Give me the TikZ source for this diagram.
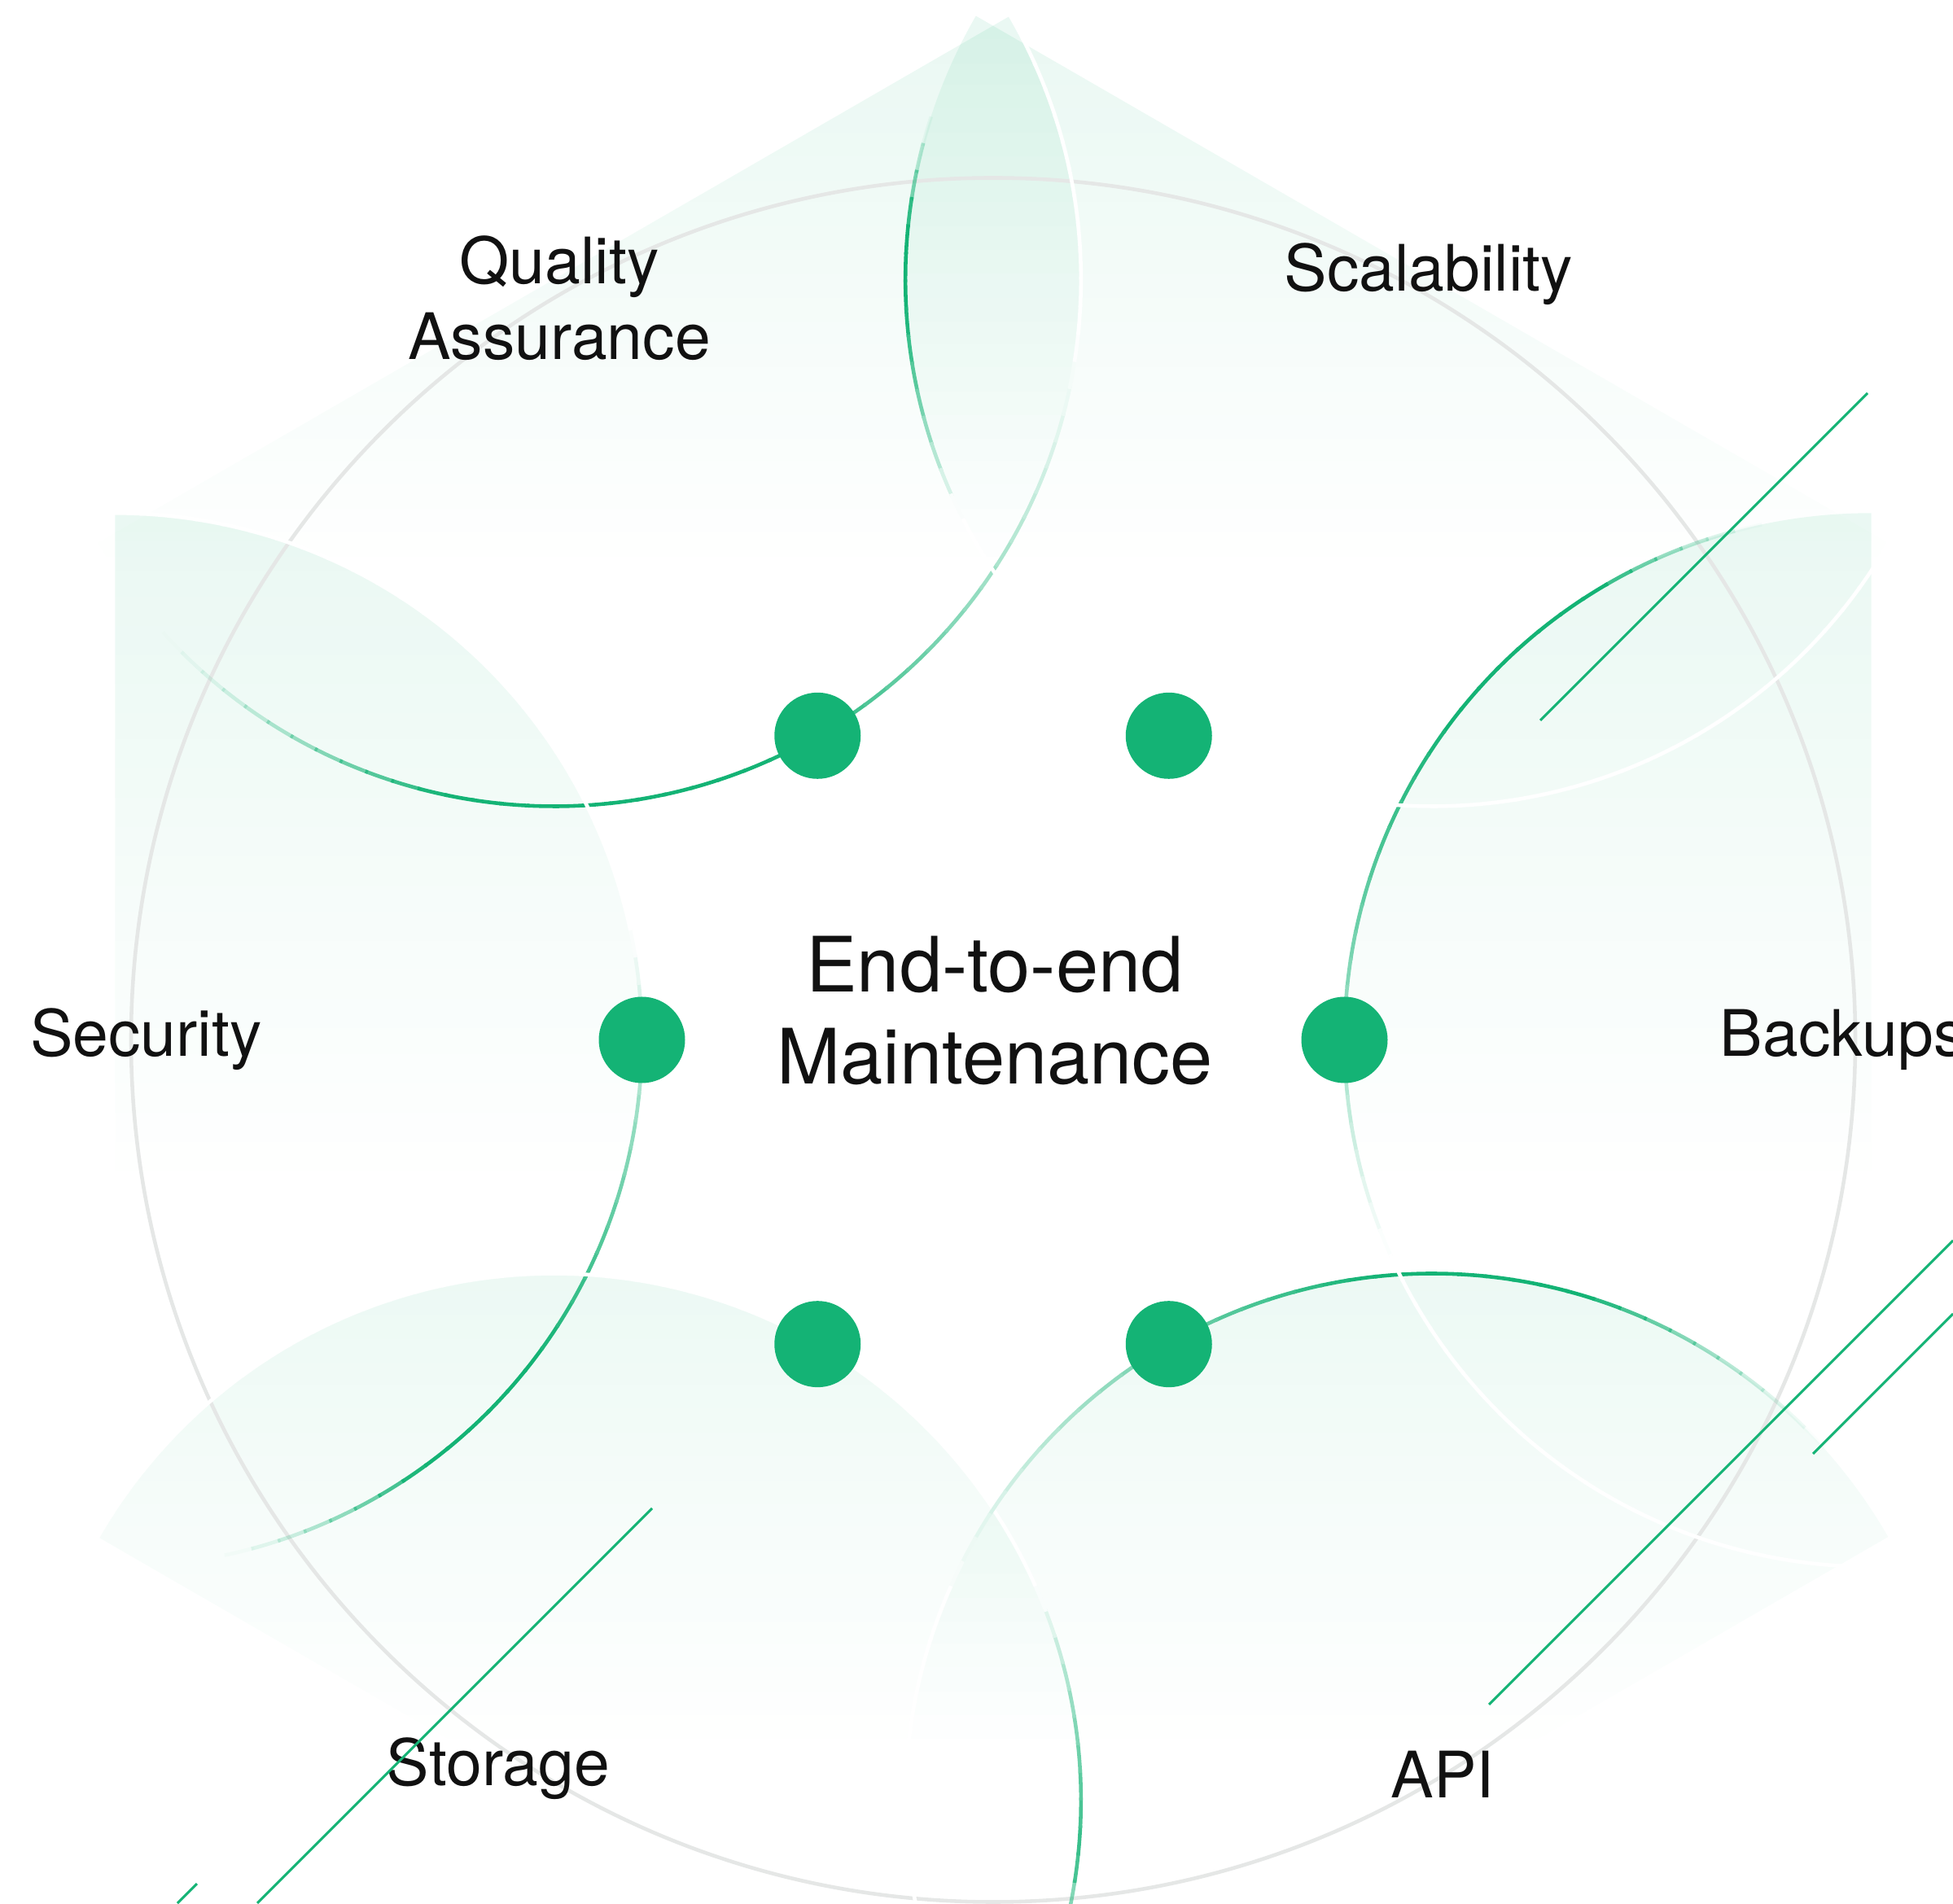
\documentclass[tikz,border=0pt]{standalone}
\usepackage{fontspec}
\setmainfont{TeX Gyre Heros}
\usetikzlibrary{fadings}

\definecolor{leaf}{HTML}{14B375}
\definecolor{ink}{HTML}{111111}
\definecolor{ringgray}{RGB}{229,231,230}

\begin{tikzfadingfrompicture}[name=petalfade]
  \path (0,0) rectangle (2,2);
  \shade[top color=transparent!0, bottom color=transparent!100] (0,0.76) rectangle (2,2);
\end{tikzfadingfrompicture}

\tikzset{
  petal/.style={fill=leaf, fill opacity=0.1, path fading=petalfade},
  ring/.style={draw=ringgray, line width=1.3pt},
  hexdot/.style={circle, fill=leaf, minimum size=1.06cm, inner sep=0pt},
  tag/.style={text=ink, font=\fontsize{22.4}{26.7}\selectfont, align=center, anchor=base},
  streak/.style={draw=leaf, line width=0.85pt}
}

\begin{document}
\begin{tikzpicture}
\useasboundingbox (0,0) rectangle (23.99,23.38);
\clip (0,0) rectangle (23.99,23.38);
\coordinate (C) at (12.20,10.605);

% petals (half discs, fading downwards)
\foreach \t in {120,180,240,300,360,420} {
  \path (C) ++(\t:10.787) coordinate (p);
  \fill[petal] (p) ++(\t+90:6.472) arc[start angle=\t+90, end angle=\t+270, radius=6.472] -- cycle;
}

\draw[ring] (C) circle[radius=10.59];

% petal rims: green on one side, white on the other
% angle / fade-in end / green until / white from
\foreach \t/\u/\v/\w in {120/0.15/0.45/0.9, 180/0.08/0.2/0.6, 240/0.03/0.02/0.2,
                          300/0.12/0.3/0.8, 360/0.06/0.2/0.7, 420/0.03/0.08/0.22} {
  \path (C) ++(\t:10.787) coordinate (p);
  \foreach \a in {90,93,...,267} {
    \pgfmathsetmacro\s{(1-sin(\a+1.5))/2}
    \pgfmathsetmacro\o{min(1,max(0,(\s-0.012)/\u))}
    \pgfmathsetmacro\m{max(0,min(100,100*(\w-\s)/(\w-\v)))}
    \draw[draw=leaf!\m!white, draw opacity=\o, line width=1.3pt]
      (p) ++(\t+\a:6.472) arc[start angle=\t+\a, end angle=\t+\a+3.3, radius=6.472];
  }
}

% dots on the hexagon
\foreach \t/\n in {0/bk,60/sc,120/qa,180/se,240/st,300/ap}
  \path (C) ++(\t:4.315) node[hexdot] (dot-\n) {};

% labels
\node[tag] (scal) at (17.55,19.80) {Scalability};
\node[tag] (qual) at (6.87,18.96) {Quality\\Assurance};
\node[tag] (secu) at (1.795,10.40) {Security};
\node[tag] (back) at (22.635,10.40) {Backups};
\node[tag] (stor) at (6.12,1.45) {Storage};
\node[tag] (api) at (17.72,1.30) {API};
\node[text=ink, font=\fontsize{26.7}{32.4}\selectfont, align=center, anchor=base] (core) at (12.22,10.06) {End-to-end\\Maintenance};

% streaks
\coordinate (s1a) at (18.92,14.53); \coordinate (s1b) at (22.94,18.55);
\coordinate (s2a) at (18.29,2.44);  \coordinate (s2b) at (23.99,8.14);
\coordinate (s3a) at (22.27,5.52);  \coordinate (s3b) at (23.99,7.24);
\coordinate (s4a) at (8.01,4.85);   \coordinate (s4b) at (3.16,0);
\coordinate (s5a) at (2.42,0.24);   \coordinate (s5b) at (2.18,0);
\draw[streak] (s1a) -- (s1b);
\draw[streak] (s2a) -- (s2b);
\draw[streak] (s3a) -- (s3b);
\draw[streak] (s4a) -- (s4b);
\draw[streak] (s5a) -- (s5b);
\end{tikzpicture}
\end{document}
